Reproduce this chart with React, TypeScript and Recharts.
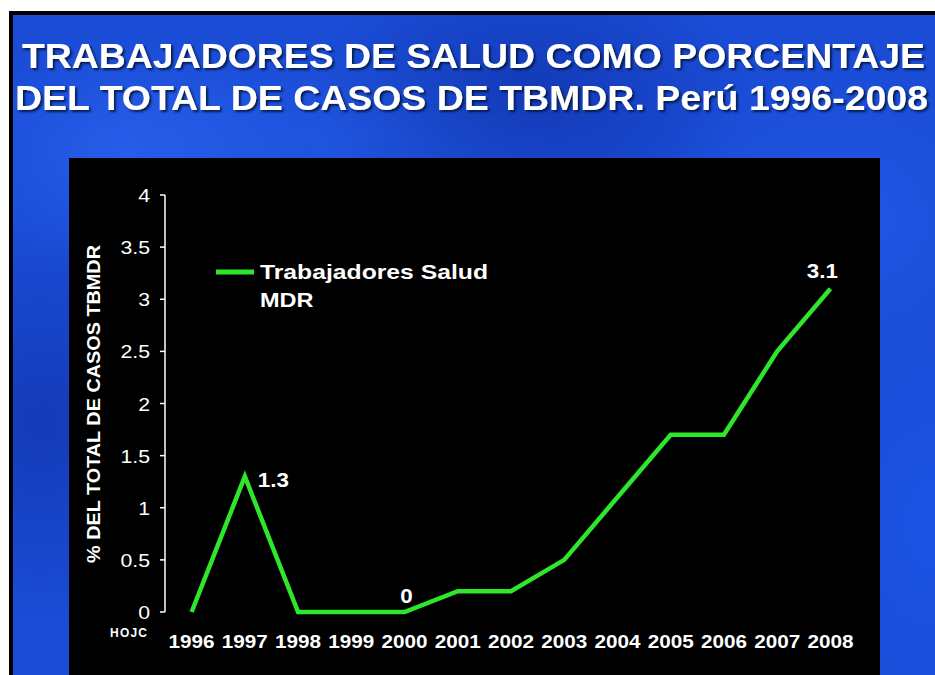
import { LineChart, Line, XAxis, YAxis, LabelList } from "recharts";

const years = ["1996", "1997", "1998", "1999", "2000", "2001", "2002", "2003", "2004", "2005", "2006", "2007", "2008"];
const pctWorkers = [0, 1.3, 0, 0, 0, 0.2, 0.2, 0.5, 1.1, 1.7, 1.7, 2.5, 3.1];
const shownValues = ["", "1.3", "", "", "0", "", "", "", "", "", "", "", "3.1"];
const yTicks = [0, 0.5, 1, 1.5, 2, 2.5, 3, 3.5, 4];

const seriesName = ["Trabajadores Salud", "MDR"];
const titleLines = [
  "TRABAJADORES DE SALUD COMO PORCENTAJE",
  "DEL TOTAL DE CASOS DE TBMDR. Perú 1996-2008",
];
const yTitle = "% DEL TOTAL DE CASOS TBMDR";

const data = years.map((year, i) => ({ idx: i, year, value: pctWorkers[i], note: shownValues[i] }));
const labelTicks = years.map((_, i) => i);
const markTicks = years.map((_, i) => i - 0.5).concat(years.length - 0.5);

const GREEN = "#2fe62a";
const FONT = "'Liberation Sans', Arial, sans-serif";

// where each value note sits relative to its point
const notePlace: Record<string, { dx: number; dy: number; anchor: "start" | "middle" }> = {
  "1997": { dx: 13, dy: 11, anchor: "start" },
  "2000": { dx: 2, dy: -9, anchor: "middle" },
  "2008": { dx: -8, dy: -11, anchor: "middle" },
};

function renderNote(props: any) {
  const { x, y, value, index } = props;
  if (!value) return null;
  const p = notePlace[years[index]] || { dx: 0, dy: -10, anchor: "middle" };
  return (
    <text
      transform={`translate(${x + p.dx},${y + p.dy}) scale(1.12,1)`}
      textAnchor={p.anchor}
      fill="#ffffff"
      fontFamily={FONT}
      fontWeight="bold"
      fontSize={20}
    >
      {value}
    </text>
  );
}

// slide text is slightly stretched horizontally
function YearTick(props: any) {
  const { x, y, payload } = props;
  return (
    <text
      transform={`translate(${x},${y + 13}) scale(1.15,1)`}
      textAnchor="middle"
      fill="#ffffff"
      fontFamily={FONT}
      fontWeight="bold"
      fontSize={18}
    >
      {years[payload.value]}
    </text>
  );
}

function PctTick(props: any) {
  const { x, y, payload } = props;
  return (
    <text
      transform={`translate(${x},${y + 7}) scale(1.12,1)`}
      textAnchor="end"
      fill="#ffffff"
      fontFamily={FONT}
      fontSize={19}
    >
      {String(payload.value)}
    </text>
  );
}

export default function App() {
  return (
    <div
      style={{
        position: "absolute",
        left: 0,
        top: 0,
        width: 935,
        height: 675,
        overflow: "hidden",
        background: "#ffffff",
      }}
    >
      {/* slide */}
      <div
        style={{
          position: "absolute",
          left: 9,
          top: 11,
          width: 940,
          height: 680,
          borderTop: "4px solid #000",
          borderLeft: "4px solid #000",
          background:
            "radial-gradient(ellipse 180px 120px at 12% 20%, rgba(50,110,250,0.5), transparent)," +
            "radial-gradient(ellipse 220px 140px at 55% 12%, rgba(12,40,150,0.5), transparent)," +
            "radial-gradient(ellipse 200px 160px at 88% 30%, rgba(40,100,245,0.45), transparent)," +
            "radial-gradient(ellipse 160px 200px at 3% 60%, rgba(15,45,160,0.55), transparent)," +
            "radial-gradient(ellipse 140px 220px at 98% 75%, rgba(30,90,240,0.55), transparent)," +
            "radial-gradient(ellipse 260px 90px at 35% 18%, rgba(40,100,240,0.4), transparent)," +
            "#1a4cd6",
        }}
      />
      {/* plot panel */}
      <div
        style={{
          position: "absolute",
          left: 69,
          top: 158,
          width: 811,
          height: 530,
          background: "#000000",
        }}
      />
      <div style={{ position: "absolute", left: 0, top: 0 }}>
        <LineChart width={935} height={675} data={data} margin={{ top: 195, right: 78, bottom: 23, left: 105 }}>
          <XAxis
            xAxisId="marks"
            type="number"
            dataKey="idx"
            domain={[-0.5, years.length - 0.5]}
            ticks={markTicks}
            tickFormatter={() => ""}
            height={0}
            tickSize={7}
            tickLine={{ stroke: "#ffffff", strokeWidth: 1.5 }}
            axisLine={{ stroke: "#ffffff", strokeWidth: 1.5 }}
          />
          <XAxis
            xAxisId="labels"
            type="number"
            dataKey="idx"
            domain={[-0.5, years.length - 0.5]}
            ticks={labelTicks}
            interval={0}
            height={40}
            tickSize={0}
            tickMargin={23}
            tickLine={false}
            axisLine={false}
            tick={<YearTick />}
          />
          <YAxis
            type="number"
            domain={[0, 4]}
            ticks={yTicks}
            interval={0}
            width={60}
            tickSize={5}
            tickMargin={10}
            tickLine={{ stroke: "#ffffff", strokeWidth: 1.5 }}
            axisLine={{ stroke: "#ffffff", strokeWidth: 1.5 }}
            tick={<PctTick />}
          />
          <Line
            xAxisId="labels"
            dataKey="value"
            stroke="transparent"
            dot={false}
            activeDot={false}
            legendType="none"
            isAnimationActive={false}
          />
          <Line
            xAxisId="marks"
            type="linear"
            dataKey="value"
            stroke={GREEN}
            strokeWidth={4.5}
            strokeLinejoin="miter"
            dot={false}
            activeDot={false}
            isAnimationActive={false}
          >
            <LabelList dataKey="note" content={renderNote} />
          </Line>
        </LineChart>
      </div>
      {/* texts */}
      <svg
        width={935}
        height={675}
        style={{ position: "absolute", left: 0, top: 0, pointerEvents: "none" }}
      >
        <defs>
          <filter id="shade" x="-5%" y="-20%" width="110%" height="150%">
            <feDropShadow dx={2} dy={2} stdDeviation={0.8} floodColor="#061440" floodOpacity={0.9} />
          </filter>
        </defs>
        <g fontFamily={FONT} fontWeight="bold" fontSize={35} fill="#ffffff" filter="url(#shade)">
          <text x={22} y={68} textLength={903} lengthAdjust="spacingAndGlyphs">
            {titleLines[0]}
          </text>
          <text x={15} y={110} textLength={913} lengthAdjust="spacingAndGlyphs">
            {titleLines[1]}
          </text>
        </g>
        <text
          transform="translate(100,404) rotate(-90)"
          textAnchor="middle"
          textLength={318}
          lengthAdjust="spacingAndGlyphs"
          fill="#ffffff"
          fontFamily={FONT}
          fontWeight="bold"
          fontSize={18}
        >
          {yTitle}
        </text>
        <text x={110} y={637} fill="#ffffff" fontFamily={FONT} fontWeight="bold" fontSize={12} textLength={37}>
          HOJC
        </text>
        {/* legend */}
        <line x1={216} y1={272} x2={254} y2={272} stroke={GREEN} strokeWidth={5} />
        <text
          x={260}
          y={279}
          fill="#ffffff"
          fontFamily={FONT}
          fontWeight="bold"
          fontSize={21}
          textLength={228}
          lengthAdjust="spacingAndGlyphs"
        >
          {seriesName[0]}
        </text>
        <text
          transform="translate(260,307) scale(1.12,1)"
          fill="#ffffff"
          fontFamily={FONT}
          fontWeight="bold"
          fontSize={21}
        >
          {seriesName[1]}
        </text>
      </svg>
    </div>
  );
}
